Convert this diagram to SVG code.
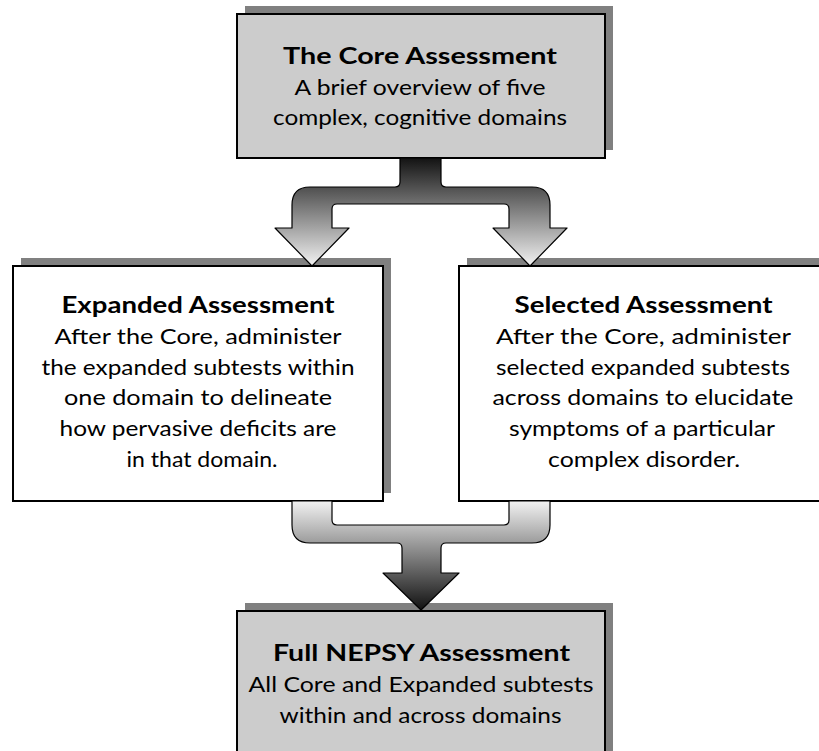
<svg xmlns="http://www.w3.org/2000/svg" width="819" height="751" viewBox="0 0 819 751">
<style>
.shadow{fill:#808080}
.box{stroke:#000;stroke-width:2}
.grey{fill:#cccccc}
.white{fill:#ffffff}
text{font-family:Lato,"Open Sans","Liberation Sans",sans-serif;font-size:22px;fill:#000;text-anchor:middle}
.t{font-weight:bold}
.arrow{stroke:#000;stroke-width:1.2;stroke-linejoin:round}
</style>
<defs>
<linearGradient id="gDown" gradientUnits="userSpaceOnUse" x1="0" y1="157" x2="0" y2="266">
<stop offset="0" stop-color="#111111"/>
<stop offset="1" stop-color="#f2f2f2"/>
</linearGradient>
<linearGradient id="gMerge" gradientUnits="userSpaceOnUse" x1="0" y1="501" x2="0" y2="610">
<stop offset="0" stop-color="#f2f2f2"/>
<stop offset="1" stop-color="#111111"/>
</linearGradient>
</defs>
<g id="core">
<rect class="shadow" x="245" y="6" width="368" height="144"/>
<rect class="box grey" x="237" y="14" width="368" height="144"/>
<text class="t" x="420" y="64" textLength="274" lengthAdjust="spacingAndGlyphs">The Core Assessment</text>
<text x="420" y="95" textLength="251" lengthAdjust="spacingAndGlyphs">A brief overview of five</text>
<text x="420" y="125" textLength="294" lengthAdjust="spacingAndGlyphs">complex, cognitive domains</text>
</g>
<g id="expanded">
<rect class="shadow" x="21" y="258" width="370" height="235"/>
<rect class="box white" x="13" y="266" width="370" height="235"/>
<text class="t" x="198" y="313" textLength="273" lengthAdjust="spacingAndGlyphs">Expanded Assessment</text>
<text x="198" y="344" textLength="287" lengthAdjust="spacingAndGlyphs">After the Core, administer</text>
<text x="198" y="375" textLength="313" lengthAdjust="spacingAndGlyphs">the expanded subtests within</text>
<text x="198" y="405" textLength="268" lengthAdjust="spacingAndGlyphs">one domain to delineate</text>
<text x="198" y="436" textLength="277" lengthAdjust="spacingAndGlyphs">how pervasive deficits are</text>
<text x="202" y="467" textLength="151" lengthAdjust="spacingAndGlyphs">in that domain.</text>
</g>
<g id="selected">
<rect class="shadow" x="467" y="258" width="370" height="235"/>
<rect class="box white" x="459" y="266" width="370" height="235"/>
<text class="t" x="643.5" y="313" textLength="258" lengthAdjust="spacingAndGlyphs">Selected Assessment</text>
<text x="643.5" y="344" textLength="295" lengthAdjust="spacingAndGlyphs">After the Core,  administer</text>
<text x="643" y="375" textLength="294" lengthAdjust="spacingAndGlyphs">selected expanded subtests</text>
<text x="643" y="405" textLength="301" lengthAdjust="spacingAndGlyphs">across domains to elucidate</text>
<text x="642" y="436" textLength="266" lengthAdjust="spacingAndGlyphs">symptoms of a particular</text>
<text x="644" y="467" textLength="192" lengthAdjust="spacingAndGlyphs">complex disorder.</text>
</g>
<g id="full">
<rect class="shadow" x="245" y="603" width="368" height="170"/>
<rect class="box grey" x="237" y="611" width="368" height="170"/>
<text class="t" x="421.5" y="661" textLength="297" lengthAdjust="spacingAndGlyphs">Full NEPSY Assessment</text>
<text x="421" y="692" textLength="345" lengthAdjust="spacingAndGlyphs">All Core and Expanded subtests</text>
<text x="420.5" y="723" textLength="282" lengthAdjust="spacingAndGlyphs">within and across domains</text>
</g>
<g id="connectors">
<path class="arrow" fill="url(#gDown)" d="M400,158 L400,182 Q400,187 395,187 L310,187 Q292,187 292,205 L292,228 L275,228 L312,266 L349,228 L332,228 L332,209 Q332,204 337,204 L504,204 Q509,204 509,209 L509,228 L493,228 L530,266 L567,228 L550,228 L550,205 Q550,187 532,187 L446,187 Q441,187 441,182 L441,158 Z"/>
<path class="arrow" fill="url(#gMerge)" d="M292,501 L292,525 Q292,543 310,543 L397,543 Q402,543 402,548 L402,573 L383,573 L421,610 L459,573 L441,573 L441,548 Q441,543 446,543 L532,543 Q550,543 550,525 L550,501 L509,501 L509,520 Q509,525 504,525 L337,525 Q332,525 332,520 L332,501 Z"/>
</g>
</svg>
